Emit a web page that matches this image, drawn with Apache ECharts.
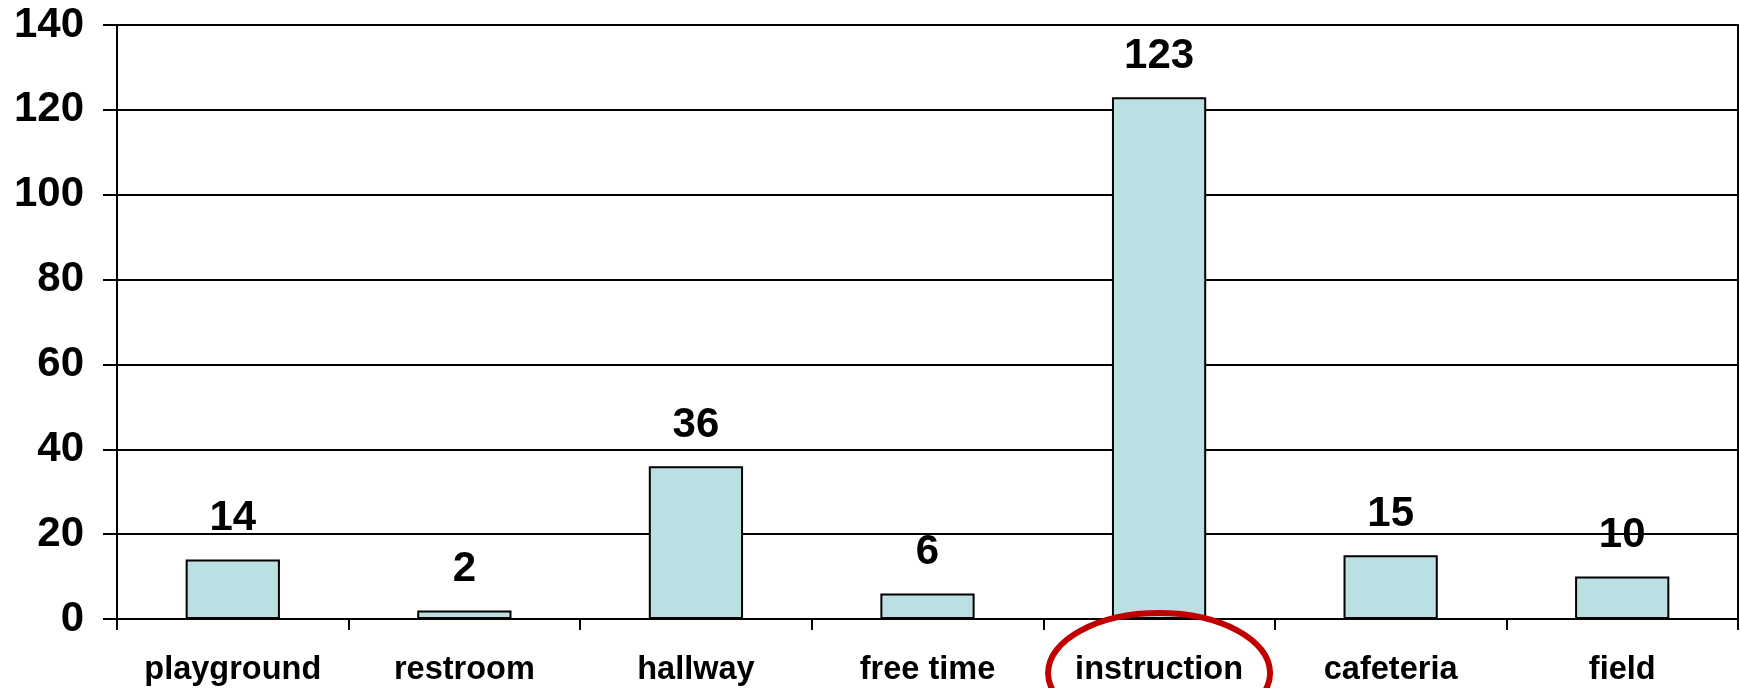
<!DOCTYPE html>
<html>
<head>
<meta charset="utf-8">
<script src="https://cdn.jsdelivr.net/npm/echarts@6/dist/echarts.min.js"></script>
<style>
html,body{margin:0;padding:0;background:#fff;}
#chart{width:1740px;height:688px;}
</style>
</head>
<body>
<div id="chart"></div>
<script>
const categories = ['playground', 'restroom', 'hallway', 'free time', 'instruction', 'cafeteria', 'field'];
const counts = [14, 2, 36, 6, 123, 15, 10];
const yTicks = { min: 0, max: 140, interval: 20 };
const highlightCategory = 'instruction';

const chart = echarts.init(document.getElementById('chart'), null, { renderer: 'canvas' });
const font = '"Liberation Sans", Arial, sans-serif';

const option = {
  animation: false,
  backgroundColor: '#ffffff',
  grid: {
    left: 117, right: 2, top: 25, bottom: 69,
    show: true, borderColor: '#000', borderWidth: 2, backgroundColor: 'transparent'
  },
  xAxis: {
    type: 'category',
    data: categories,
    axisLine: { show: true, lineStyle: { color: '#000', width: 2 } },
    axisTick: { show: true, length: 11, lineStyle: { color: '#000', width: 2 } },
    axisLabel: { color: '#000', fontFamily: font, fontWeight: 'bold', fontSize: 32.5, margin: 35 }
  },
  yAxis: {
    type: 'value',
    min: yTicks.min, max: yTicks.max, interval: yTicks.interval,
    axisLine: { show: true, lineStyle: { color: '#000', width: 2 } },
    axisTick: { show: true, length: 14, lineStyle: { color: '#000', width: 2 } },
    splitLine: { show: true, lineStyle: { color: '#000', width: 2 } },
    axisLabel: { color: '#000', fontFamily: font, fontWeight: 'bold', fontSize: 42, margin: 33 }
  },
  series: [{
    type: 'bar',
    data: counts,
    barWidth: '40.7%',
    itemStyle: { color: '#BBE0E3', borderColor: '#000', borderWidth: 2 },
    label: {
      show: true, position: 'top', distance: 20,
      color: '#000', fontFamily: font, fontWeight: 'bold', fontSize: 42
    }
  }]
};
chart.setOption(option);

// Red ellipse around the highlighted category label
function drawHighlight() {
  const idx = categories.indexOf(highlightCategory);
  const cx = chart.convertToPixel({ xAxisIndex: 0 }, idx);
  chart.setOption({
    graphic: [{
      type: 'ellipse',
      shape: { cx: cx, cy: 673, rx: 111, ry: 60 },
      style: { fill: 'none', stroke: '#C00000', lineWidth: 6 },
      z: 100
    }]
  });
}
drawHighlight();
</script>
</body>
</html>
